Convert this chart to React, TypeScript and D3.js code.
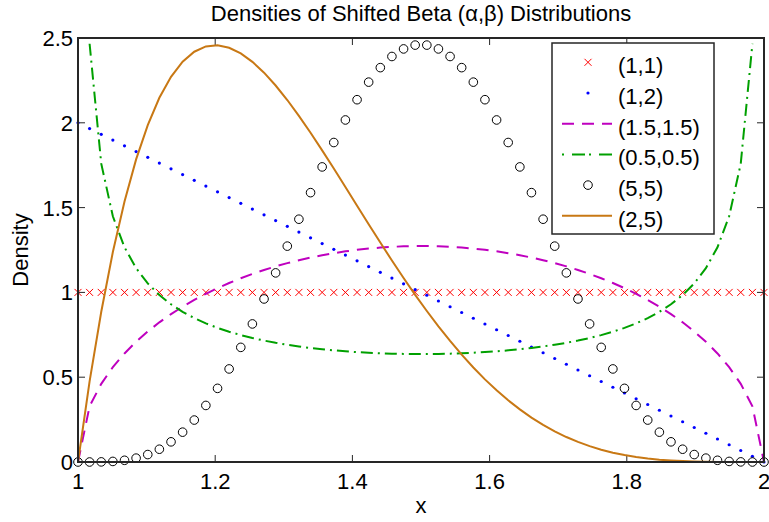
import React, { useEffect, useRef } from 'react';
import * as d3 from 'd3';

// sample grid (60 points on [1, 2])
const xGrid = [
  1.0000, 1.0169, 1.0339, 1.0508, 1.0678, 1.0847, 1.1017, 1.1186, 1.1356, 1.1525,
  1.1695, 1.1864, 1.2034, 1.2203, 1.2373, 1.2542, 1.2712, 1.2881, 1.3051, 1.3220,
  1.3390, 1.3559, 1.3729, 1.3898, 1.4068, 1.4237, 1.4407, 1.4576, 1.4746, 1.4915,
  1.5085, 1.5254, 1.5424, 1.5593, 1.5763, 1.5932, 1.6102, 1.6271, 1.6441, 1.6610,
  1.6780, 1.6949, 1.7119, 1.7288, 1.7458, 1.7627, 1.7797, 1.7966, 1.8136, 1.8305,
  1.8475, 1.8644, 1.8814, 1.8983, 1.9153, 1.9322, 1.9492, 1.9661, 1.9831, 2.0000,
];

const beta11 = [
  1, 1, 1, 1, 1, 1, 1, 1, 1, 1, 1, 1, 1, 1, 1, 1, 1, 1, 1, 1,
  1, 1, 1, 1, 1, 1, 1, 1, 1, 1, 1, 1, 1, 1, 1, 1, 1, 1, 1, 1,
  1, 1, 1, 1, 1, 1, 1, 1, 1, 1, 1, 1, 1, 1, 1, 1, 1, 1, 1, 1,
];

const beta12 = [
  2.0000, 1.9661, 1.9322, 1.8983, 1.8644, 1.8305, 1.7966, 1.7627, 1.7288, 1.6949,
  1.6610, 1.6271, 1.5932, 1.5593, 1.5254, 1.4915, 1.4576, 1.4237, 1.3898, 1.3559,
  1.3220, 1.2881, 1.2542, 1.2203, 1.1864, 1.1525, 1.1186, 1.0847, 1.0508, 1.0169,
  0.9831, 0.9492, 0.9153, 0.8814, 0.8475, 0.8136, 0.7797, 0.7458, 0.7119, 0.6780,
  0.6441, 0.6102, 0.5763, 0.5424, 0.5085, 0.4746, 0.4407, 0.4068, 0.3729, 0.3390,
  0.3051, 0.2712, 0.2373, 0.2034, 0.1695, 0.1356, 0.1017, 0.0678, 0.0339, 0.0000,
];

const beta1515 = [
  0.0000, 0.3287, 0.4608, 0.5594, 0.6402, 0.7092, 0.7697, 0.8235, 0.8718, 0.9156,
  0.9554, 0.9918, 1.0250, 1.0555, 1.0833, 1.1088, 1.1321, 1.1533, 1.1725, 1.1899,
  1.2054, 1.2192, 1.2314, 1.2420, 1.2509, 1.2583, 1.2642, 1.2687, 1.2716, 1.2731,
  1.2731, 1.2716, 1.2687, 1.2642, 1.2583, 1.2509, 1.2420, 1.2314, 1.2192, 1.2054,
  1.1899, 1.1725, 1.1533, 1.1321, 1.1088, 1.0833, 1.0555, 1.0250, 0.9918, 0.9554,
  0.9156, 0.8718, 0.8235, 0.7697, 0.7092, 0.6402, 0.5594, 0.4608, 0.3287, 0.0000,
];

// infinite at both ends, so those are left out
const beta0505 = [
  null, 2.4660, 1.7589, 1.4489, 1.2662, 1.1429, 1.0532, 0.9844, 0.9298, 0.8853,
  0.8484, 0.8173, 0.7908, 0.7680, 0.7482, 0.7310, 0.7160, 0.7028, 0.6913, 0.6812,
  0.6724, 0.6648, 0.6583, 0.6527, 0.6480, 0.6442, 0.6412, 0.6389, 0.6375, 0.6367,
  0.6367, 0.6375, 0.6389, 0.6412, 0.6442, 0.6480, 0.6527, 0.6583, 0.6648, 0.6724,
  0.6812, 0.6913, 0.7028, 0.7160, 0.7310, 0.7482, 0.7680, 0.7908, 0.8173, 0.8484,
  0.8853, 0.9298, 0.9844, 1.0532, 1.1429, 1.2662, 1.4489, 1.7589, 2.4660, null,
];

const beta55 = [
  0.0000, 0.0000, 0.0007, 0.0034, 0.0101, 0.0228, 0.0439, 0.0753, 0.1189, 0.1759,
  0.2473, 0.3335, 0.4342, 0.5487, 0.6759, 0.8141, 0.9613, 1.1151, 1.2728, 1.4315,
  1.5882, 1.7399, 1.8838, 2.0167, 2.1362, 2.2398, 2.3253, 2.3910, 2.4356, 2.4581,
  2.4581, 2.4356, 2.3910, 2.3253, 2.2398, 2.1362, 2.0167, 1.8838, 1.7399, 1.5882,
  1.4315, 1.2728, 1.1151, 0.9613, 0.8141, 0.6759, 0.5487, 0.4342, 0.3335, 0.2473,
  0.1759, 0.1189, 0.0753, 0.0439, 0.0228, 0.0101, 0.0034, 0.0007, 0.0000, 0.0000,
];

const beta25 = [
  0.0000, 0.4749, 0.8859, 1.2380, 1.5359, 1.7841, 1.9866, 2.1477, 2.2711, 2.3604,
  2.4191, 2.4503, 2.4572, 2.4425, 2.4090, 2.3592, 2.2954, 2.2198, 2.1344, 2.0411,
  1.9416, 1.8375, 1.7302, 1.6211, 1.5113, 1.4019, 1.2939, 1.1880, 1.0851, 0.9857,
  0.8904, 0.7996, 0.7136, 0.6328, 0.5573, 0.4873, 0.4227, 0.3637, 0.3101, 0.2619,
  0.2187, 0.1806, 0.1472, 0.1183, 0.0935, 0.0725, 0.0551, 0.0409, 0.0295, 0.0206,
  0.0138, 0.0088, 0.0052, 0.0029, 0.0014, 0.0006, 0.0002, 0.0000, 0.0000, 0.0000,
];

const legendLabels = ['(1,1)', '(1,2)', '(1.5,1.5)', '(0.5,0.5)', '(5,5)', '(2,5)'];
const xTicks = [1, 1.2, 1.4, 1.6, 1.8, 2];
const yTicks = [0, 0.5, 1, 1.5, 2, 2.5];

const FONT = '"Liberation Sans", Arial, Helvetica, sans-serif';
const FS = 22;
const MAGENTA = '#bf00bf';
const GREEN = '#00a000';
const ORANGE = '#c87814';

const App = () => {
  const ref = useRef<SVGSVGElement>(null);

  useEffect(() => {
    const svg = d3.select(ref.current);
    svg.selectAll('*').remove();

    const margin = { top: 38, right: 5, bottom: 60, left: 78 };
    const W = 769, H = 522;
    const x = d3.scaleLinear().domain([1, 2]).range([margin.left, W - margin.right]);
    const y = d3.scaleLinear().domain([0, 2.5]).range([H - margin.bottom, margin.top]);
    const [x0, x1] = x.range();
    const [y0, y1] = y.range();

    svg.append('rect').attr('width', W).attr('height', H).attr('fill', '#fff');

    // ticks, inside, on all four sides
    const tk = svg.append('g').attr('stroke', '#262626').attr('stroke-width', 1);
    xTicks.forEach(t => {
      tk.append('line').attr('x1', x(t)).attr('x2', x(t)).attr('y1', y0).attr('y2', y0 - 7);
      tk.append('line').attr('x1', x(t)).attr('x2', x(t)).attr('y1', y1).attr('y2', y1 + 7);
    });
    yTicks.forEach(t => {
      tk.append('line').attr('x1', x0).attr('x2', x0 + 7).attr('y1', y(t)).attr('y2', y(t));
      tk.append('line').attr('x1', x1).attr('x2', x1 - 7).attr('y1', y(t)).attr('y2', y(t));
    });

    svg.append('g').selectAll('text').data(xTicks).enter().append('text')
      .attr('x', d => x(d)).attr('y', y0 + 27)
      .attr('text-anchor', 'middle')
      .attr('font-family', FONT).attr('font-size', FS)
      .text(d => String(d));

    svg.append('g').selectAll('text').data(yTicks).enter().append('text')
      .attr('x', x0 - 5).attr('y', d => y(d) + 8)
      .attr('text-anchor', 'end')
      .attr('font-family', FONT).attr('font-size', FS)
      .text(d => String(d));

    const pts = (vals: (number | null)[]) => xGrid.map((xv, i) => [xv, vals[i]] as [number, number | null]);
    const line = d3.line<[number, number | null]>()
      .defined(d => d[1] !== null)
      .x(d => x(d[0]))
      .y(d => y(d[1] as number));

    const plot = svg.append('g');

    // (1,1) x markers
    plot.append('g').selectAll('path').data(pts(beta11)).enter().append('path')
      .attr('d', d => {
        const cx = x(d[0]), cy = y(d[1] as number), s = 3.5;
        return `M${cx - s},${cy - s}L${cx + s},${cy + s}M${cx - s},${cy + s}L${cx + s},${cy - s}`;
      })
      .attr('stroke', '#ff0000').attr('stroke-width', 1).attr('fill', 'none');

    // (1,2) dots
    plot.append('g').selectAll('circle').data(pts(beta12)).enter().append('circle')
      .attr('cx', d => x(d[0])).attr('cy', d => y(d[1] as number))
      .attr('r', 1.6).attr('fill', '#0000ff');

    plot.append('path').datum(pts(beta1515)).attr('d', line)
      .attr('fill', 'none').attr('stroke', MAGENTA).attr('stroke-width', 2)
      .attr('stroke-dasharray', '12,8');

    plot.append('path').datum(pts(beta0505)).attr('d', line)
      .attr('fill', 'none').attr('stroke', GREEN).attr('stroke-width', 2)
      .attr('stroke-dasharray', '12,5,2,5');

    // (5,5) open circles
    plot.append('g').selectAll('circle').data(pts(beta55)).enter().append('circle')
      .attr('cx', d => x(d[0])).attr('cy', d => y(d[1] as number))
      .attr('r', 4.3).attr('fill', 'none').attr('stroke', '#000').attr('stroke-width', 1);

    plot.append('path').datum(pts(beta25)).attr('d', line)
      .attr('fill', 'none').attr('stroke', ORANGE).attr('stroke-width', 2);

    // axes box
    svg.append('rect')
      .attr('x', x0).attr('y', y1).attr('width', x1 - x0).attr('height', y0 - y1)
      .attr('fill', 'none').attr('stroke', '#262626').attr('stroke-width', 2);

    // title and labels
    svg.append('text').attr('x', (x0 + x1) / 2).attr('y', 21)
      .attr('text-anchor', 'middle').attr('font-family', FONT).attr('font-size', FS)
      .text('Densities of Shifted Beta (\u03b1,\u03b2) Distributions');
    svg.append('text').attr('x', (x0 + x1) / 2).attr('y', 513)
      .attr('text-anchor', 'middle').attr('font-family', FONT).attr('font-size', FS)
      .text('x');
    svg.append('text')
      .attr('transform', `translate(28,${(y0 + y1) / 2}) rotate(-90)`)
      .attr('text-anchor', 'middle').attr('font-family', FONT).attr('font-size', FS)
      .text('Density');

    // legend
    const lg = svg.append('g');
    lg.append('rect').attr('x', 552).attr('y', 43).attr('width', 162).attr('height', 191)
      .attr('fill', '#fff').attr('stroke', '#262626').attr('stroke-width', 1.5);
    legendLabels.forEach((lab, i) => {
      const cy = 62.3 + i * 30.7;
      const row = lg.append('g');
      if (i === 0) {
        const s = 3.5, cx = 588;
        row.append('path')
          .attr('d', `M${cx - s},${cy - s}L${cx + s},${cy + s}M${cx - s},${cy + s}L${cx + s},${cy - s}`)
          .attr('stroke', '#ff0000').attr('stroke-width', 1);
      } else if (i === 1) {
        row.append('circle').attr('cx', 588).attr('cy', cy).attr('r', 1.6).attr('fill', '#0000ff');
      } else if (i === 4) {
        row.append('circle').attr('cx', 588).attr('cy', cy).attr('r', 4.3)
          .attr('fill', 'none').attr('stroke', '#000').attr('stroke-width', 1);
      } else {
        const color = i === 2 ? MAGENTA : i === 3 ? GREEN : ORANGE;
        const dash = i === 2 ? '12,8' : i === 3 ? '2,8,13,4' : null;
        const l = row.append('line').attr('x1', 562).attr('x2', 612).attr('y1', cy).attr('y2', cy)
          .attr('stroke', color).attr('stroke-width', 2);
        if (dash) l.attr('stroke-dasharray', dash);
      }
      row.append('text').attr('x', 618).attr('y', cy + 11)
        .attr('font-family', FONT).attr('font-size', FS)
        .text(lab);
    });
  }, []);

  return (
    <svg ref={ref} width={769} height={522}
      style={{ position: 'absolute', left: 0, top: 0, display: 'block' }} />
  );
};

export default App;
